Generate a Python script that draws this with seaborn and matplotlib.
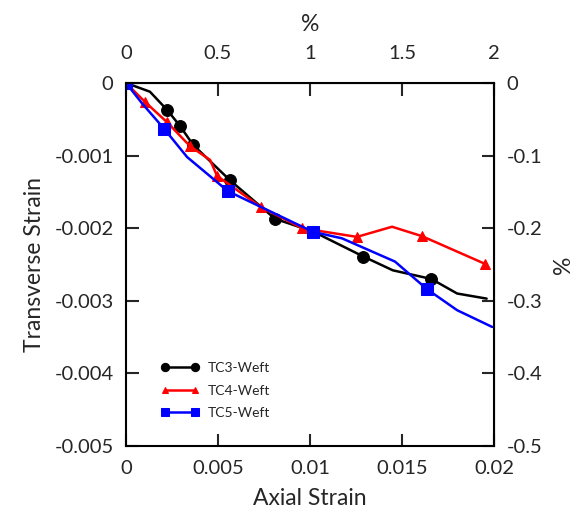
import matplotlib
matplotlib.use("Agg")
import matplotlib.pyplot as plt
import seaborn as sns
import pandas as pd
import numpy as np

# TC3-Weft (black, circles)
tc3_axial = [0.0, 0.0013, 0.00223, 0.00293, 0.00364, 0.00565, 0.0081, 0.0102, 0.0129, 0.0145, 0.0166, 0.018, 0.0196]
tc3_trans = [0.0, -0.00012, -0.00037, -0.00059, -0.00085, -0.00134, -0.00187, -0.00205, -0.00239, -0.00258, -0.0027, -0.0029, -0.00297]
tc3_marks = [2, 3, 4, 5, 6, 8, 10]

# TC4-Weft (red, triangles)
tc4_axial = [0.0, 0.00103, 0.00223, 0.00348, 0.00457, 0.00495, 0.00734, 0.00957, 0.01255, 0.01446, 0.01609, 0.0195]
tc4_trans = [0.0, -0.00026, -0.00054, -0.00087, -0.00106, -0.00128, -0.00171, -0.002, -0.00212, -0.00198, -0.00211, -0.00249]
tc4_marks = [1, 2, 3, 5, 6, 7, 8, 10, 11]

# TC5-Weft (blue, squares)
tc5_axial = [0.0, 0.00087, 0.00207, 0.00332, 0.00554, 0.01016, 0.01174, 0.01462, 0.01636, 0.018, 0.0199]
tc5_trans = [0.0, -0.00028, -0.00063, -0.00102, -0.00149, -0.00205, -0.00214, -0.00246, -0.00284, -0.00313, -0.00336]
tc5_marks = [0, 2, 4, 5, 8]

x_ticks = [0, 0.005, 0.01, 0.015, 0.02]
y_ticks = [0, -0.001, -0.002, -0.003, -0.004, -0.005]
top_ticks = [0, 0.5, 1, 1.5, 2]
right_ticks = [0, -0.1, -0.2, -0.3, -0.4, -0.5]

sns.set_style("ticks")
plt.rcParams['font.family'] = ['Lato', 'DejaVu Sans']

fig = plt.figure(figsize=(5.73, 5.18), dpi=100)
ax = fig.add_axes([0.2199, 0.139, 0.6422, 0.7008])

series = [
    ("TC3-Weft", tc3_axial, tc3_trans, tc3_marks, "black", "o", 8.5),
    ("TC4-Weft", tc4_axial, tc4_trans, tc4_marks, "#ff0000", "^", 7),
    ("TC5-Weft", tc5_axial, tc5_trans, tc5_marks, "#0000ff", "s", 8),
]

for name, xs, ys, marks, color, mk, ms in series:
    df = pd.DataFrame({"Axial": xs, "Transverse": ys})
    sns.lineplot(data=df, x="Axial", y="Transverse", sort=False, ax=ax,
                 color=color, linewidth=1.8, marker=mk, markersize=ms,
                 markevery=marks, markeredgecolor=color, markerfacecolor=color,
                 label=name)

ax.set_xlim(0, 0.02)
ax.set_ylim(-0.005, 0)
ax.set_xticks(x_ticks)
ax.set_xticklabels(["0", "0.005", "0.01", "0.015", "0.02"])
ax.set_yticks(y_ticks)
ax.set_yticklabels(["0", "-0.001", "-0.002", "-0.003", "-0.004", "-0.005"])
ax.set_xlabel("Axial Strain", fontsize=16.5, labelpad=8)
ax.set_ylabel("Transverse Strain", fontsize=16.5, labelpad=7)
ax.tick_params(axis="y", direction="in", length=9, width=1.5, labelsize=14.5, pad=9)
ax.tick_params(axis="x", direction="in", length=9, width=1.5, labelsize=14.5, pad=10)

for sp in ax.spines.values():
    sp.set_visible(True)
    sp.set_linewidth(1.5)
    sp.set_color("black")

top = ax.secondary_xaxis("top", functions=(lambda v: v * 100, lambda v: v / 100))
top.set_xticks(top_ticks)
top.set_xticklabels(["0", "0.5", "1", "1.5", "2"])
top.tick_params(direction="in", length=9, width=1.5, labelsize=14.5, pad=15)
top.set_xlabel("%", fontsize=16.5, labelpad=10)

right = ax.secondary_yaxis("right", functions=(lambda v: v * 100, lambda v: v / 100))
right.set_yticks(right_ticks)
right.set_yticklabels(["0", "-0.1", "-0.2", "-0.3", "-0.4", "-0.5"])
right.tick_params(direction="in", length=9, width=1.5, labelsize=14.5, pad=9)
right.set_ylabel("%", fontsize=16.5, labelpad=8)

leg = ax.legend(loc="lower left", bbox_to_anchor=(0.06, 0.04), frameon=False,
                fontsize=10, numpoints=2, handlelength=2.8, markerscale=0.7,
                labelspacing=0.75, handletextpad=0.6)

fig.savefig("out.png", dpi=100)
